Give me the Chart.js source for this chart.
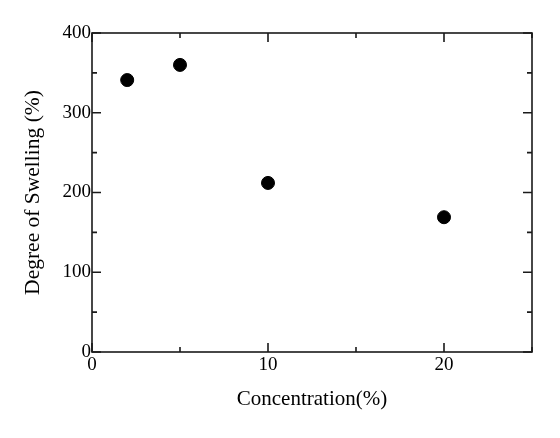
<!DOCTYPE html>
<html>
<head>
<meta charset="utf-8">
<script src="https://cdn.jsdelivr.net/npm/chart.js@4"></script>
<style>
  html, body { margin: 0; padding: 0; background: #fff; }
  #wrap { width: 560px; height: 438px; }
</style>
</head>
<body>
<div id="wrap"><canvas id="swellChart" width="560" height="438"></canvas></div>
<script>
const concentration = [2, 5, 10, 20];
const swelling = [341, 360, 212, 169];

const xTicks = [0, 5, 10, 15, 20, 25];
const xLabels = [0, 10, 20];
const yTicks = [0, 50, 100, 150, 200, 250, 300, 350, 400];
const yLabels = [0, 100, 200, 300, 400];

const serif = 'Liberation Serif';

// inward ticks on all four sides, plus the top/right frame
const frameTicks = {
  id: 'frameTicks',
  afterDraw(chart) {
    const ctx = chart.ctx;
    const a = chart.chartArea;
    const xs = chart.scales.x, ys = chart.scales.y;
    ctx.save();
    ctx.strokeStyle = '#1a1a1a';
    ctx.lineWidth = 1.6;
    ctx.strokeRect(a.left, a.top, a.right - a.left, a.bottom - a.top);
    ctx.beginPath();
    xTicks.forEach(v => {
      const len = v % 10 === 0 ? 9 : 5;
      const px = xs.getPixelForValue(v);
      ctx.moveTo(px, a.bottom); ctx.lineTo(px, a.bottom - len);
      ctx.moveTo(px, a.top); ctx.lineTo(px, a.top + len);
    });
    yTicks.forEach(v => {
      const len = v % 100 === 0 ? 9 : 5;
      const py = ys.getPixelForValue(v);
      ctx.moveTo(a.left, py); ctx.lineTo(a.left + len, py);
      ctx.moveTo(a.right, py); ctx.lineTo(a.right - len, py);
    });
    ctx.stroke();
    ctx.restore();
  }
};

const data = {
  datasets: [{
    label: 'Degree of Swelling',
    data: concentration.map((c, i) => ({ x: c, y: swelling[i] })),
    backgroundColor: '#000',
    borderColor: '#000',
    pointRadius: 6.5,
    showLine: false
  }]
};

const config = {
  type: 'scatter',
  data: data,
  options: {
    responsive: false,
    animation: false,
    layout: { padding: { top: 33, right: 28, left: 0, bottom: 0 } },
    plugins: { legend: { display: false }, tooltip: { enabled: false } },
    scales: {
      x: {
        type: 'linear',
        min: 0, max: 25,
        afterBuildTicks: s => { s.ticks = xLabels.map(v => ({ value: v })); },
        afterFit: s => { s.height = 86; },
        grid: { display: false, drawTicks: false },
        border: { display: false },
        ticks: { color: '#000', padding: 2, maxRotation: 0, font: { family: serif, size: 19 } },
        title: {
          display: true, text: 'Concentration(%)', color: '#000',
          font: { family: serif, size: 21 }, padding: { top: 0, bottom: 26 }
        }
      },
      y: {
        type: 'linear',
        min: 0, max: 400,
        afterBuildTicks: s => { s.ticks = yLabels.map(v => ({ value: v })); },
        afterFit: s => { s.width = 92; },
        grid: { display: false, drawTicks: false },
        border: { display: false },
        ticks: { color: '#000', padding: 1, font: { family: serif, size: 19 } },
        title: {
          display: true, text: 'Degree of Swelling (%)', color: '#000',
          font: { family: serif, size: 21.5 }, padding: { top: 20, bottom: 0 }
        }
      }
    }
  },
  plugins: [frameTicks]
};

const myChart = new Chart(document.getElementById('swellChart'), config);
</script>
</body>
</html>
